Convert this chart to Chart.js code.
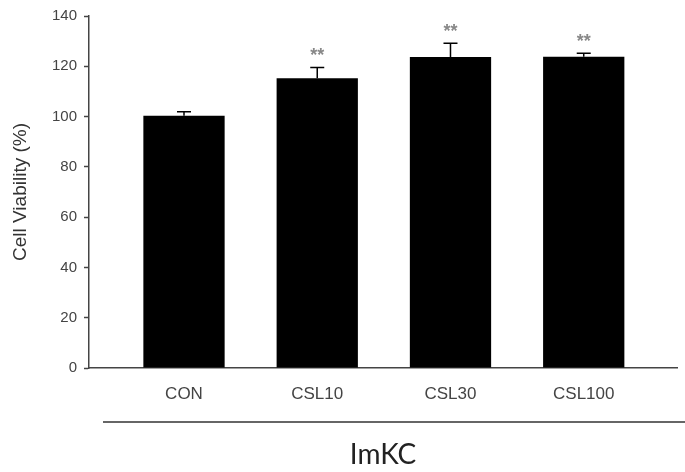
<!DOCTYPE html>
<html>
<head>
<meta charset="utf-8">
<script src="https://cdn.jsdelivr.net/npm/chart.js@4/dist/chart.umd.min.js"></script>
<style>
  html, body { margin: 0; padding: 0; background: #fff; }
  #wrap { width: 685px; height: 472px; }
</style>
</head>
<body>
<div id="wrap"><canvas id="myChart"></canvas></div>
<script>
let categories = ["CON", "CSL10", "CSL30", "CSL100"];
let viability = [100.3, 115.2, 123.7, 123.8];
let errors = [1.6, 4.3, 5.5, 1.4];
let stars = ["", "**", "**", "**"];
let yTicks = [0, 20, 40, 60, 80, 100, 120, 140];

let sansFont = "'Liberation Sans', Arial, sans-serif";

// error bars, significance stars and the group bracket line
let extras = {
    id: "extras",
    afterDatasetsDraw: function(chart) {
        let ctx = chart.ctx;
        let xs = chart.scales.x;
        let ys = chart.scales.y;
        ctx.save();
        for (let i = 0; i < categories.length; i++) {
            let px = xs.getPixelForValue(i);
            let top = ys.getPixelForValue(viability[i]);
            let capY = ys.getPixelForValue(viability[i] + errors[i]);
            ctx.strokeStyle = "#000";
            ctx.lineWidth = 1.5;
            ctx.beginPath();
            ctx.moveTo(px, top);
            ctx.lineTo(px, capY);
            ctx.moveTo(px - 7, capY);
            ctx.lineTo(px + 7, capY);
            ctx.stroke();
            if (stars[i]) {
                ctx.fillStyle = "#888";
                ctx.font = "bold 18px " + sansFont;
                ctx.textAlign = "center";
                ctx.textBaseline = "alphabetic";
                ctx.fillText(stars[i], px, capY - 16.5 + 10);
            }
        }
        // bracket line under the category labels
        ctx.strokeStyle = "#333";
        ctx.lineWidth = 1.5;
        ctx.beginPath();
        ctx.moveTo(xs.left + 14, xs.top + 54);
        ctx.lineTo(chart.width, xs.top + 54);
        ctx.stroke();
        ctx.restore();
    }
};

let myChart = document.getElementById("myChart").getContext("2d");
let viabChart = new Chart(myChart, {
    type: "bar",
    data: {
        datasets: [{
            label: "Cell Viability",
            data: categories.map(function(c, i) { return { x: i, y: viability[i] }; }),
            backgroundColor: "#000",
            borderWidth: 0,
            categoryPercentage: 1,
            barPercentage: 0.61
        }]
    },
    options: {
        responsive: true,
        maintainAspectRatio: false,
        animation: false,
        layout: { padding: { left: 0, right: 8, top: 13, bottom: 0 } },
        plugins: {
            title: { display: false },
            legend: { display: false },
            tooltip: { enabled: false }
        },
        scales: {
            x: {
                type: "linear",
                min: -0.713,
                max: 3.70,
                offset: false,
                afterBuildTicks: function(scale) {
                    scale.ticks = categories.map(function(c, i) { return { value: i }; });
                },
                afterFit: function(scale) { scale.height = 104; },
                ticks: {
                    callback: function(value) { return categories[value]; },
                    color: "#444",
                    font: { size: 17, family: sansFont },
                    padding: 16,
                    maxRotation: 0,
                    autoSkip: false
                },
                grid: { display: false, drawTicks: false },
                border: { display: true, color: "#444", width: 1.5 },
                title: {
                    display: true,
                    text: "ImKC",
                    color: "#222",
                    font: { size: 28, family: "Lato, 'Open Sans', sans-serif" },
                    padding: { top: 0, bottom: 0 }
                }
            },
            y: {
                min: 0,
                max: 140,
                afterBuildTicks: function(scale) {
                    scale.ticks = yTicks.map(function(v) { return { value: v }; });
                },
                afterFit: function(scale) { scale.width = 89; },
                ticks: {
                    color: "#444",
                    font: { size: 15, family: sansFont },
                    padding: 7
                },
                grid: {
                    drawOnChartArea: false,
                    drawTicks: true,
                    tickLength: 5,
                    tickWidth: 1.5,
                    tickColor: "#444"
                },
                border: { display: true, color: "#444", width: 1.5 },
                title: {
                    display: true,
                    text: "Cell Viability (%)",
                    color: "#333",
                    font: { size: 19, family: sansFont },
                    padding: { top: 9, bottom: 0 }
                }
            }
        }
    },
    plugins: [extras]
});
</script>
</body>
</html>
